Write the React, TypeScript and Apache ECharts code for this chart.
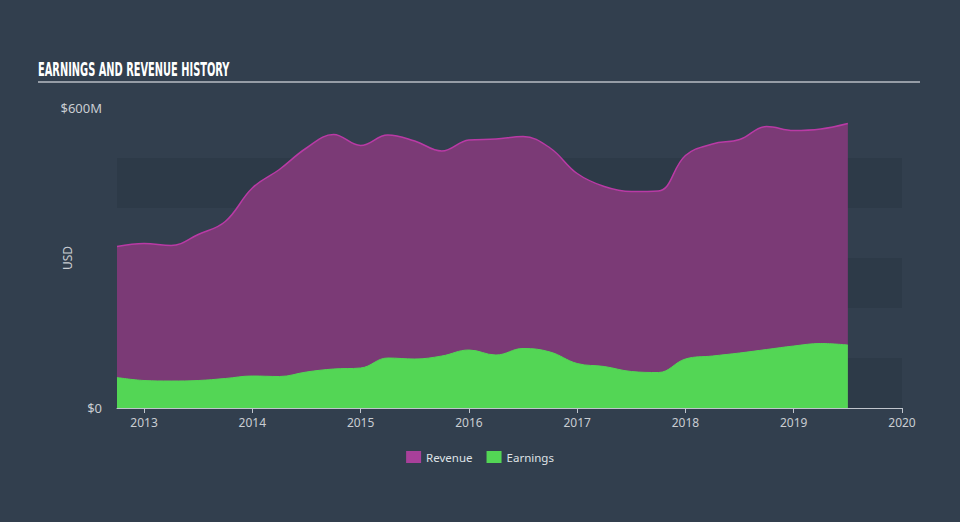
import React, { useEffect, useRef } from "react";
import * as echarts from "echarts";

const periods = [
  2012.75, 2013.0, 2013.25, 2013.5, 2013.75, 2014.0, 2014.25, 2014.5, 2014.75,
  2015.0, 2015.25, 2015.5, 2015.75, 2016.0, 2016.25, 2016.5, 2016.75,
  2017.0, 2017.25, 2017.5, 2017.75, 2018.0, 2018.25, 2018.5, 2018.75,
  2019.0, 2019.25, 2019.5,
];
// values in $M
const revenue = [
  323, 329, 325, 347, 373, 440, 477, 520, 547,
  525, 546, 534, 514, 536, 538, 543, 520,
  469, 443, 433, 434, 505, 528, 537, 563,
  555, 558, 569,
];
const earnings = [
  61, 55, 54, 55, 59, 64, 63, 72, 78,
  80, 100, 98, 104, 116, 106, 119, 112,
  89, 83, 73, 71, 98, 104, 110, 117,
  124, 129, 126,
];
const yearTicks = [2013, 2014, 2015, 2016, 2017, 2018, 2019, 2020];
const titleText = "EARNINGS AND REVENUE HISTORY";

export default function App() {
  const ref = useRef<HTMLDivElement>(null);
  useEffect(() => {
    if (!ref.current) return;
    const chart = echarts.init(ref.current, undefined, { renderer: "svg" });
    const revData = periods.map((p, i) => [p, revenue[i]]);
    const earnData = periods.map((p, i) => [p, earnings[i]]);
    const axisText = "#c9cdd2";
    chart.setOption({
      animation: false,
      backgroundColor: "#323f4e",
      textStyle: { fontFamily: "Noto Sans, sans-serif" },
      graphic: [
        {
          type: "text",
          x: 38,
          y: 59,
          scaleX: 0.548,
          style: {
            text: titleText,
            fill: "#ffffff",
            font: "bold 20px 'Liberation Sans Narrow', 'DejaVu Sans Condensed', sans-serif",
            textVerticalAlign: "top",
          },
        },
        {
          type: "line",
          shape: { x1: 38, y1: 82, x2: 920, y2: 82 },
          style: { stroke: "#b9bec4", lineWidth: 1.5 },
        },
      ],
      grid: { left: 117, right: 58, top: 108, bottom: 114 },
      legend: {
        top: 446,
        left: "center",
        icon: "rect",
        itemWidth: 15,
        itemHeight: 12,
        itemGap: 14,
        textStyle: { color: "#dfe2e6", fontSize: 11.5 },
        data: ["Revenue", "Earnings"],
      },
      xAxis: {
        type: "value",
        min: 2012.75,
        max: 2020,
        splitLine: { show: false },
        axisLine: { show: true, lineStyle: { color: "#c0c5cc", width: 1 } },
        axisTick: {
          show: true,
          length: 5,
          lineStyle: { color: "#c0c5cc" },
          customValues: yearTicks,
        },
        axisLabel: {
          color: axisText,
          fontSize: 12,
          margin: 8,
          customValues: yearTicks,
          formatter: (v: number) => String(Math.round(v)),
        },
      },
      yAxis: {
        type: "value",
        min: 0,
        max: 600,
        interval: 100,
        name: "USD",
        nameLocation: "middle",
        nameGap: 44,
        nameMoveOverlap: false,
        nameRotate: 90,
        nameTextStyle: { color: axisText, fontSize: 12 },
        axisLine: { show: false },
        axisTick: { show: false },
        splitLine: { show: false },
        splitArea: {
          show: true,
          areaStyle: { color: ["#2d3a48", "rgba(0,0,0,0)"] },
        },
        axisLabel: {
          color: axisText,
          fontSize: 13,
          margin: 15,
          formatter: (v: number) => (v === 600 ? "$600M" : v === 0 ? "$0" : ""),
        },
      },
      series: [
        {
          name: "Revenue",
          type: "line",
          data: revData,
          smooth: 0.4,
          symbol: "none",
          itemStyle: { color: "#a8409a" },
          lineStyle: { color: "#b93aa5", width: 1.5 },
          areaStyle: { color: "#7b3a76", opacity: 1 },
          z: 2,
        },
        {
          name: "Earnings",
          type: "line",
          data: earnData,
          smooth: 0.4,
          symbol: "none",
          itemStyle: { color: "#53d655" },
          lineStyle: { color: "#53d655", width: 1 },
          areaStyle: { color: "#53d655", opacity: 1 },
          z: 3,
        },
      ],
    });
    return () => chart.dispose();
  }, []);
  return (
    <div
      ref={ref}
      style={{ position: "fixed", left: 0, top: 0, width: 960, height: 522 }}
    />
  );
}
